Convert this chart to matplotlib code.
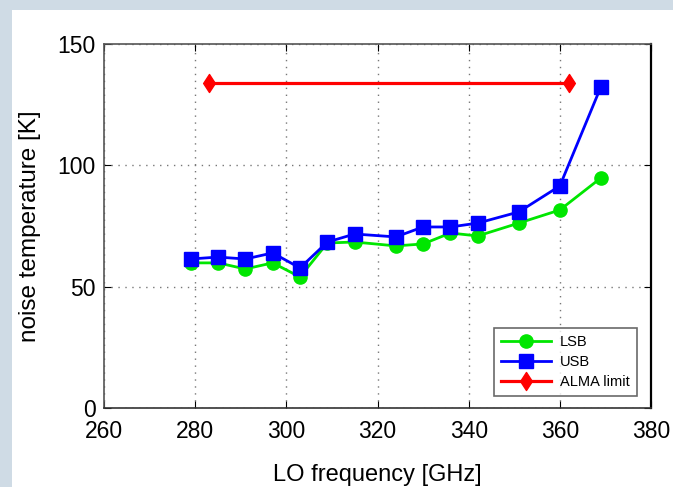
import matplotlib
matplotlib.use("Agg")
import matplotlib.pyplot as plt
from matplotlib.patches import Rectangle
from matplotlib.path import Path

# LO frequencies [GHz] and measured noise temperatures [K]
lo_freq = [279, 285, 291, 297, 303, 309, 315, 324, 330, 336, 342, 351, 360, 369]
lsb = [59.8, 59.8, 57.3, 59.8, 54.0, 68.0, 68.4, 66.8, 67.6, 72.1, 70.9, 76.2, 81.6, 94.8]
usb = [61.4, 62.2, 61.4, 63.9, 57.7, 68.4, 71.7, 70.5, 74.6, 74.6, 76.2, 80.8, 91.5, 132.3]

# ALMA specification line
alma_freq = [283, 362]
alma_limit = [134, 134]

x_ticks = [260, 280, 300, 320, 340, 360, 380]
y_ticks = [0, 50, 100, 150]

plt.rcParams['font.family'] = ['Liberation Sans', 'DejaVu Sans']

W, H = 673, 487
fig = plt.figure(figsize=(W / 100, H / 100), dpi=100)
fig.patch.set_facecolor('#cfdbe5')
fig.patches.append(Rectangle((12 / W, 0), 1 - 12 / W, 1 - 10 / H,
                             transform=fig.transFigure, facecolor='white',
                             edgecolor='none', zorder=-10))

left, right, top, bottom = 104, 651, 44, 408
ax = fig.add_axes([left / W, 1 - bottom / H, (right - left) / W, (bottom - top) / H])
ax.set_zorder(1)
ax.set_facecolor('white')

# slightly narrow diamond marker
diamond = Path([(0, 1), (0.65, 0), (0, -1), (-0.65, 0), (0, 1)],
               [Path.MOVETO, Path.LINETO, Path.LINETO, Path.LINETO, Path.CLOSEPOLY])

ax.plot(lo_freq, lsb, color='#00e600', lw=2, marker='o', ms=9.5, label='LSB', zorder=3)
ax.plot(lo_freq, usb, color='#0000ff', lw=2, marker='s', ms=9.5, label='USB', zorder=4)
ax.plot(alma_freq, alma_limit, color='#ff0000', lw=2.3, marker=diamond, ms=13,
        label='ALMA limit', zorder=3)

ax.set_xlim(260, 380)
ax.set_ylim(0, 150)
ax.set_xticks(x_ticks)
ax.set_yticks(y_ticks)
ax.tick_params(direction='in', top=True, right=True, length=5, labelsize=16.5, colors='black')
ax.tick_params(axis='x', pad=9)
ax.tick_params(axis='y', pad=6)
ax.grid(True, color='#777777', linestyle=(0, (1, 4)), lw=1)
for s in ax.spines.values():
    s.set_color('#555555')
    s.set_linewidth(1.2)
ax.spines['bottom'].set_color('#333333')
ax.spines['right'].set_color('black')
ax.spines['right'].set_linewidth(1.6)

ax.set_xlabel('LO frequency [GHz]', fontsize=17, labelpad=15)
ax.set_ylabel('noise temperature [K]', fontsize=17.5, labelpad=12)

leg = ax.legend(loc='lower right', fontsize=10.5, frameon=True, fancybox=False,
                edgecolor='#444444', handlelength=3.4, handletextpad=0.6,
                borderpad=0.5, labelspacing=0.4, borderaxespad=0,
                bbox_to_anchor=(0.974, 0.033))
leg.get_frame().set_linewidth(1.2)

fig.savefig('out.png', dpi=100)
